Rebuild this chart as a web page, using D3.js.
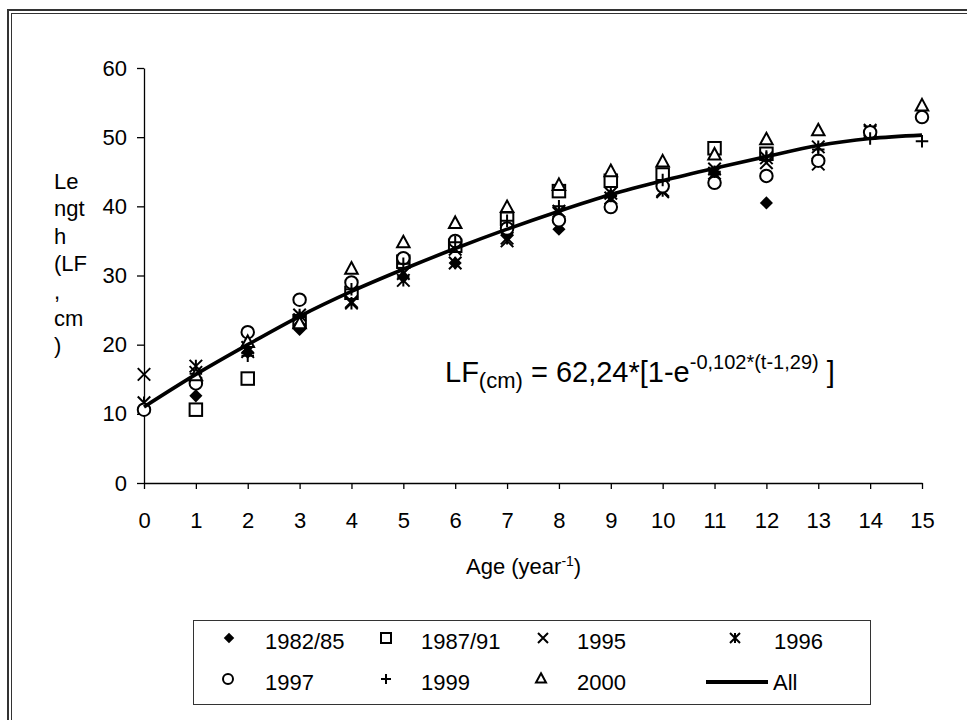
<!DOCTYPE html>
<html><head><meta charset="utf-8">
<script src="https://cdn.jsdelivr.net/npm/d3@7/dist/d3.min.js"></script>
<style>
body{margin:0;background:#fff;}
svg text{font-family:"Liberation Sans",Arial,sans-serif;fill:#000;}
</style></head>
<body>
<svg id="c" width="967" height="720"></svg>
<script>
const ages = [0,1,2,3,4,5,6,7,8,9,10,11,12,13,14,15];
const yTicks = [0,10,20,30,40,50,60];
const xTicks = [0,1,2,3,4,5,6,7,8,9,10,11,12,13,14,15];

// observed lengths per survey (age, length)
const s1982 = [[1,12.6],[2,18.9],[3,22.2],[4,26.8],[5,29.8],[6,31.8],[7,36.0],[8,36.7],[9,41.6],[11,44.8],[12,40.5]];
const s1987 = [[1,10.6],[2,15.1],[3,23.4],[4,27.5],[5,32.0],[6,34.3],[7,38.2],[8,42.2],[9,43.7],[10,44.6],[11,48.4],[12,47.6]];
const s1995 = [[0,15.7],[1,16.0],[2,19.6],[3,23.6],[4,26.2],[5,30.3],[6,33.8],[7,35.0],[8,39.0],[9,41.2],[10,42.1],[11,45.4],[12,46.3],[13,46.1],[14,50.8]];
const s1996 = [[0,11.6],[1,16.9],[2,19.0],[3,24.3],[4,26.0],[5,29.3],[6,31.8],[7,35.4],[8,39.3],[9,41.9],[10,42.3],[11,44.8],[12,47.0],[13,48.6],[14,51.0]];
const s1997 = [[0,10.6],[1,14.4],[2,21.8],[3,26.5],[4,29.0],[5,32.5],[6,35.0],[7,36.8],[8,38.0],[9,39.9],[10,42.9],[11,43.4],[12,44.4],[13,46.6],[14,50.7],[15,52.9]];
const s1999 = [[1,15.8],[2,18.4],[3,24.0],[4,28.0],[5,31.7],[6,34.8],[7,37.9],[8,40.0],[9,41.5],[10,43.8],[11,45.0],[12,47.2],[13,48.2],[14,49.8],[15,49.4]];
const s2000 = [[1,15.5],[2,20.3],[3,23.0],[4,30.9],[5,34.7],[6,37.5],[7,39.8],[8,43.0],[9,45.0],[10,46.4],[11,47.4],[12,49.6],[13,50.9],[15,54.5]];
const allFit = [11.0,15.7,20.0,24.1,27.7,30.9,33.9,36.7,39.3,41.7,43.7,45.5,47.2,48.8,49.8,50.3];

const seriesNames = ["1982/85","1987/91","1995","1996","1997","1999","2000","All"];

const svg = d3.select("#c");
// frame (double line)
svg.append("rect").attr("x",8).attr("y",10).attr("width",990).attr("height",740).attr("fill","none").attr("stroke","#333").attr("stroke-width",2);
svg.append("rect").attr("x",11.5).attr("y",13.5).attr("width",990).attr("height",740).attr("fill","none").attr("stroke","#333").attr("stroke-width",1);

const x = d3.scaleLinear().domain([0,15]).range([144,922]);
const y = d3.scaleLinear().domain([0,60]).range([483,68]);

// axes
const gy = svg.append("g").attr("transform","translate(144,0)")
  .call(d3.axisLeft(y).tickValues(yTicks).tickSize(7).tickSizeOuter(0).tickPadding(10));
const gx = svg.append("g").attr("transform","translate(0,483)")
  .call(d3.axisBottom(x).tickValues(xTicks).tickSize(6).tickSizeOuter(0).tickPadding(23));
[gy,gx].forEach(g=>{
  g.select(".domain").attr("stroke","#000").attr("stroke-width",1.3);
  g.selectAll(".tick line").attr("stroke","#000").attr("stroke-width",1.3);
  g.selectAll(".tick text").style("font-size","22px").style("font-family","Liberation Sans, Arial, sans-serif").attr("fill","#000");
});

// marker drawers
function marker(g, type, cx, cy, s){
  const h = s/2;
  if(type==="diamond"){
    g.append("path").attr("d",`M${cx},${cy-h*1.05}L${cx+h*1.05},${cy}L${cx},${cy+h*1.05}L${cx-h*1.05},${cy}Z`).attr("fill","#000");
  } else if(type==="square"){
    g.append("rect").attr("x",cx-h).attr("y",cy-h).attr("width",s).attr("height",s).attr("fill","#fff").attr("stroke","#000").attr("stroke-width",2);
  } else if(type==="x"){
    g.append("path").attr("d",`M${cx-h},${cy-h}L${cx+h},${cy+h}M${cx-h},${cy+h}L${cx+h},${cy-h}`).attr("stroke","#000").attr("stroke-width",2).attr("fill","none");
  } else if(type==="star"){
    g.append("path").attr("d",`M${cx-h},${cy-h}L${cx+h},${cy+h}M${cx-h},${cy+h}L${cx+h},${cy-h}M${cx},${cy-h}L${cx},${cy+h}`).attr("stroke","#000").attr("stroke-width",2).attr("fill","none");
  } else if(type==="circle"){
    g.append("circle").attr("cx",cx).attr("cy",cy).attr("r",h).attr("fill","#fff").attr("stroke","#000").attr("stroke-width",2);
  } else if(type==="plus"){
    g.append("path").attr("d",`M${cx-h},${cy}L${cx+h},${cy}M${cx},${cy-h}L${cx},${cy+h}`).attr("stroke","#000").attr("stroke-width",2).attr("fill","none");
  } else if(type==="tri"){
    g.append("path").attr("d",`M${cx},${cy-h*1.15}L${cx+h},${cy+h*0.7}L${cx-h},${cy+h*0.7}Z`).attr("fill","#fff").attr("stroke","#000").attr("stroke-width",2);
  }
}

const series = [
  {name:seriesNames[0], data:s1982, type:"diamond"},
  {name:seriesNames[1], data:s1987, type:"square"},
  {name:seriesNames[2], data:s1995, type:"x"},
  {name:seriesNames[3], data:s1996, type:"star"},
  {name:seriesNames[4], data:s1997, type:"circle"},
  {name:seriesNames[5], data:s1999, type:"plus"},
  {name:seriesNames[6], data:s2000, type:"tri"}
];

const plot = svg.append("g");
series.forEach(s=>{
  const g = plot.append("g");
  s.data.forEach(d=>marker(g, s.type, x(d[0]), y(d[1]), 12.5));
});

// fitted line
const line = d3.line().x((d,i)=>x(ages[i])).y(d=>y(d)).curve(d3.curveMonotoneX);
plot.append("path").attr("d",line(allFit)).attr("fill","none").attr("stroke","#000").attr("stroke-width",3.6);

// y label (wrapped)
const ylab = ["Le","ngt","h","(LF",",","cm",")"];
svg.append("g").selectAll("text").data(ylab).join("text")
  .attr("x",54).attr("y",(d,i)=>189+i*27.4).style("font-size","22px").text(d=>d);

// equation
const eq = svg.append("text").attr("x",445).attr("y",382).style("font-size","29px");
eq.append("tspan").text("LF");
eq.append("tspan").attr("dy",6).style("font-size","22px").text("(cm)");
eq.append("tspan").attr("dy",-6).text(" = 62,24*[1-e");
eq.append("tspan").attr("dy",-13).style("font-size","20px").text("-0,102*(t-1,29)");
eq.append("tspan").attr("dy",13).text(" ]");

// x label
const xl = svg.append("text").attr("x",466).attr("y",574).style("font-size","22px");
xl.append("tspan").text("Age (year");
xl.append("tspan").attr("dy",-8).style("font-size","14px").text("-1");
xl.append("tspan").attr("dy",8).text(")");

// legend
const lg = svg.append("g");
lg.append("rect").attr("x",193.5).attr("y",620.5).attr("width",677).attr("height",84).attr("fill","#fff").attr("stroke","#333").attr("stroke-width",1);
const legendItems = [
  {name:seriesNames[0], type:"diamond", mx:229, tx:265, ry:641},
  {name:seriesNames[1], type:"square", mx:386, tx:421, ry:641},
  {name:seriesNames[2], type:"x", mx:543, tx:577, ry:641},
  {name:seriesNames[3], type:"star", mx:735, tx:774, ry:641},
  {name:seriesNames[4], type:"circle", mx:228, tx:265, ry:682},
  {name:seriesNames[5], type:"plus", mx:386, tx:421, ry:682},
  {name:seriesNames[6], type:"tri", mx:541, tx:577, ry:682},
  {name:seriesNames[7], type:"line", mx:737, tx:773, ry:682}
];
legendItems.forEach(it=>{
  if(it.type==="line"){
    lg.append("line").attr("x1",706).attr("x2",768).attr("y1",it.ry).attr("y2",it.ry).attr("stroke","#000").attr("stroke-width",4);
  } else {
    marker(lg, it.type, it.mx, it.ry-3, 10);
  }
  lg.append("text").attr("x",it.tx).attr("y",it.ry).attr("dy","0.35em").style("font-size","22px").text(it.name);
});
</script>
</body></html>
